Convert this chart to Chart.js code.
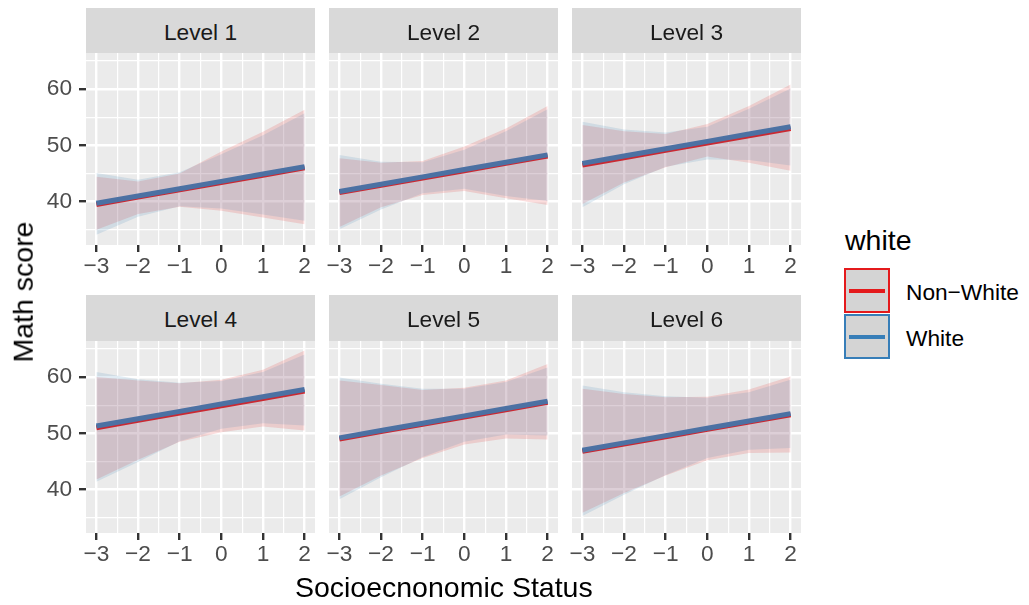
<!DOCTYPE html>
<html>
<head>
<meta charset="utf-8">
<script src="https://cdn.jsdelivr.net/npm/chart.js@4.4.1/dist/chart.umd.min.js"></script>
<style>
  html, body { margin: 0; padding: 0; background: #ffffff; }
  #fig { position: relative; width: 1029px; height: 605px; overflow: hidden;
         font-family: 'Liberation Sans', Arial, Helvetica, sans-serif; }
  #fig canvas { position: absolute; }
  .strip { position: absolute; background: #D9D9D9; }
  .strip span { position: absolute; left: 0; right: 0; text-align: center; white-space: nowrap;
                font-size: 22.7px; line-height: 22.7px; color: #1A1A1A; }
  .txt { position: absolute; white-space: nowrap; line-height: 1; color: #000000; }
  .key { position: absolute; width: 42px; height: 41px; background: #D4D4D4;
         border-style: solid; border-width: 2px; }
  .key i { position: absolute; left: 3px; right: 3px; height: 4px; }
</style>
</head>
<body>
<div id="fig"></div>
<script>
// ---- values ---------------------------------------------------------------
const ses = [-3, -2, -1, 0, 1, 2];
const sesTickLabels = ['\u22123', '\u22122', '\u22121', '0', '1', '2'];
const scoreTicks = [40, 50, 60];
const scoreTickLabels = ['40', '50', '60'];
const levels = ['Level 1', 'Level 2', 'Level 3', 'Level 4', 'Level 5', 'Level 6'];
const groups = ['Non\u2212White', 'White'];

// fitted math score per level, at each SES value
const fitNonWhite = [
  [39.5, 40.8, 42.1, 43.4, 44.7, 46.0],
  [41.6, 42.9, 44.2, 45.5, 46.8, 48.1],
  [46.5, 47.8, 49.1, 50.4, 51.7, 53.0],
  [51.0, 52.3, 53.6, 54.9, 56.2, 57.5],
  [49.0, 50.3, 51.6, 52.9, 54.2, 55.5],
  [46.8, 48.1, 49.4, 50.7, 52.0, 53.3]
];
const fitWhite = [
  [39.7, 41.0, 42.3, 43.6, 44.9, 46.2],
  [41.8, 43.1, 44.4, 45.7, 47.0, 48.3],
  [46.8, 48.1, 49.4, 50.7, 52.0, 53.3],
  [51.3, 52.6, 53.9, 55.2, 56.5, 57.8],
  [49.2, 50.5, 51.8, 53.1, 54.4, 55.7],
  [47.0, 48.3, 49.6, 50.9, 52.2, 53.5]
];

// confidence band limits
const upperNonWhite = [
  [44.4, 43.6, 45.0, 48.9, 52.4, 56.3],
  [47.7, 46.9, 47.2, 49.8, 53.0, 57.0],
  [53.6, 52.5, 52.0, 53.8, 57.0, 60.8],
  [60.0, 59.4, 58.9, 59.5, 61.3, 64.7],
  [59.4, 58.6, 57.7, 58.1, 59.4, 62.3],
  [57.9, 57.0, 56.4, 56.5, 57.8, 60.1]
];
const lowerNonWhite = [
  [35.0, 37.8, 39.1, 38.4, 37.2, 36.0],
  [35.5, 39.0, 41.2, 41.9, 40.6, 39.4],
  [39.6, 43.4, 46.1, 48.0, 46.9, 45.5],
  [41.8, 45.3, 48.5, 50.2, 51.2, 50.5],
  [38.8, 42.5, 45.6, 48.0, 49.1, 48.9],
  [35.9, 39.4, 42.5, 45.2, 46.5, 46.6]
];
const upperWhite = [
  [45.1, 43.9, 45.2, 48.4, 51.8, 55.7],
  [48.3, 47.1, 47.0, 49.2, 52.5, 56.4],
  [54.2, 52.8, 52.3, 53.3, 56.5, 60.1],
  [60.9, 59.6, 59.0, 59.3, 60.9, 64.0],
  [59.9, 58.8, 57.9, 57.9, 59.1, 61.7],
  [58.5, 57.3, 56.6, 56.3, 57.3, 59.5]
];
const lowerWhite = [
  [34.1, 37.3, 39.2, 38.8, 37.7, 36.6],
  [35.1, 38.6, 41.5, 42.3, 41.0, 40.1],
  [39.0, 43.1, 46.2, 47.5, 47.4, 46.4],
  [41.4, 44.9, 48.6, 50.8, 51.8, 51.4],
  [38.3, 42.2, 45.8, 48.5, 49.8, 49.6],
  [35.3, 39.1, 42.6, 45.6, 47.1, 47.4]
];

// ---- styling & layout -----------------------------------------------------
const RED = '#E41A1C';
const BLUE = '#377EB8';
const FONT_FAMILY = "'Liberation Sans', Arial, Helvetica, sans-serif";
const X_RANGE = [-3.25, 2.25];
const Y_RANGE = [32.3, 66.4];

const panelLeft = [86, 329, 572];
const panelRight = [315, 558, 801];
const panelTop = [53, 341];
const panelBottom = [245, 533];
const stripTop = [8, 295];

Chart.defaults.font.family = FONT_FAMILY;

function rgba(hex, a) {
  const n = parseInt(hex.slice(1), 16);
  return 'rgba(' + (n >> 16 & 255) + ',' + (n >> 8 & 255) + ',' + (n & 255) + ',' + a + ')';
}

// major breaks plus the minor breaks halfway between them
function withMinor(major, lo, hi) {
  const step = major[1] - major[0];
  const ext = [major[0] - step].concat(major, [major[major.length - 1] + step]);
  const out = [];
  for (let k = 0; k < ext.length; k++) {
    out.push(ext[k]);
    if (k < ext.length - 1) out.push((ext[k] + ext[k + 1]) / 2);
  }
  return out.filter(v => v > lo && v < hi);
}
const sesGrid = withMinor(ses, X_RANGE[0], X_RANGE[1]);
const scoreGrid = withMinor(scoreTicks, Y_RANGE[0], Y_RANGE[1]);

const isMajorX = v => ses.indexOf(v) >= 0;
const isMajorY = v => scoreTicks.indexOf(v) >= 0;

function zeroPad(s) {
  s.paddingLeft = 0; s.paddingRight = 0; s.paddingTop = 0; s.paddingBottom = 0;
}

const panelBg = {
  id: 'panelBg',
  beforeDraw(chart) {
    const { ctx, chartArea: a } = chart;
    ctx.save();
    ctx.fillStyle = '#EBEBEB';
    ctx.fillRect(a.left, a.top, a.right - a.left, a.bottom - a.top);
    ctx.restore();
  }
};

const fig = document.getElementById('fig');

function addText(text, css) {
  const d = document.createElement('div');
  d.className = 'txt';
  d.textContent = text;
  Object.assign(d.style, css);
  fig.appendChild(d);
  return d;
}

function makePanel(i) {
  const col = i % 3, row = Math.floor(i / 3);
  const yw = col === 0 ? 66 : 20;
  const padTop = 2, padRight = 12, xh = 40;
  const left = panelLeft[col] - yw;
  const top = panelTop[row] - padTop;
  const w = yw + (panelRight[col] - panelLeft[col]) + padRight;
  const h = padTop + (panelBottom[row] - panelTop[row]) + xh;

  // facet strip
  const strip = document.createElement('div');
  strip.className = 'strip';
  Object.assign(strip.style, {
    left: panelLeft[col] + 'px', top: stripTop[row] + 'px',
    width: (panelRight[col] - panelLeft[col]) + 'px',
    height: (panelTop[row] - stripTop[row]) + 'px'
  });
  const lab = document.createElement('span');
  lab.textContent = levels[i];
  lab.style.top = (32 - 0.8465 * 22.7) + 'px';
  strip.appendChild(lab);
  fig.appendChild(strip);

  const cv = document.createElement('canvas');
  cv.width = w; cv.height = h;
  Object.assign(cv.style, { left: left + 'px', top: top + 'px', width: w + 'px', height: h + 'px' });
  fig.appendChild(cv);

  const pts = arr => ses.map((x, k) => ({ x: x, y: arr[i][k] }));
  const band = (arr, color, fill) => ({
    data: pts(arr), borderWidth: 0, borderColor: 'rgba(0,0,0,0)',
    backgroundColor: rgba(color, 0.15), fill: fill
  });

  // lower index is painted later: bands sit over the fitted lines
  new Chart(cv, {
    type: 'line',
    data: {
      datasets: [
        band(upperWhite, BLUE, '+1'),
        band(lowerWhite, BLUE, false),
        band(upperNonWhite, RED, '+1'),
        band(lowerNonWhite, RED, false),
        { label: groups[1], data: pts(fitWhite), borderColor: BLUE, borderWidth: 5, fill: false },
        { label: groups[0], data: pts(fitNonWhite), borderColor: RED, borderWidth: 5, fill: false }
      ]
    },
    options: {
      responsive: false,
      animation: false,
      devicePixelRatio: 1,
      events: [],
      layout: { padding: { top: padTop, right: padRight, left: 0, bottom: 0 }, autoPadding: false },
      elements: { point: { radius: 0, hoverRadius: 0 }, line: { tension: 0 } },
      plugins: { legend: { display: false }, tooltip: { enabled: false } },
      scales: {
        x: {
          type: 'linear', bounds: 'data', min: X_RANGE[0], max: X_RANGE[1],
          afterBuildTicks: s => { s.ticks = sesGrid.map(v => ({ value: v })); },
          afterFit: s => { s.height = xh; zeroPad(s); },
          ticks: {
            autoSkip: false, maxRotation: 0, minRotation: 0, padding: 1,
            color: '#4D4D4D', font: { family: FONT_FAMILY, size: 22.7 },
            callback: v => { const k = ses.indexOf(v); return k < 0 ? '' : sesTickLabels[k]; }
          },
          grid: {
            color: '#FFFFFF',
            lineWidth: c => (c.tick && isMajorX(c.tick.value)) ? 2.4 : 1.2,
            drawTicks: true, tickLength: 7, tickWidth: 2.4,
            tickColor: c => (c.tick && isMajorX(c.tick.value)) ? '#333333' : 'rgba(0,0,0,0)'
          },
          border: { display: false }
        },
        y: {
          type: 'linear', bounds: 'data', min: Y_RANGE[0], max: Y_RANGE[1],
          afterBuildTicks: s => { s.ticks = scoreGrid.map(v => ({ value: v })); },
          afterFit: s => { s.width = yw; zeroPad(s); },
          ticks: {
            display: col === 0, autoSkip: false, padding: 7,
            color: '#4D4D4D', font: { family: FONT_FAMILY, size: 22.7 },
            callback: v => { const k = scoreTicks.indexOf(v); return k < 0 ? '' : scoreTickLabels[k]; }
          },
          grid: {
            color: '#FFFFFF',
            lineWidth: c => (c.tick && isMajorY(c.tick.value)) ? 2.4 : 1.2,
            drawTicks: col === 0, tickLength: 7, tickWidth: 2.4,
            tickColor: c => (c.tick && isMajorY(c.tick.value)) ? '#333333' : 'rgba(0,0,0,0)'
          },
          border: { display: false }
        }
      }
    },
    plugins: [panelBg]
  });
}

for (let i = 0; i < levels.length; i++) makePanel(i);

// ---- axis titles ------------------------------------------------------------
const TITLE = 28.5, SMALL = 22.7;
addText('Socioecnonomic Status', {
  fontSize: TITLE + 'px', left: '443.8px', top: (597 - 0.8465 * TITLE) + 'px',
  transform: 'translateX(-50%)'
});
addText('Math score', {
  fontSize: TITLE + 'px', left: '23.1px', top: '292px',
  transform: 'translate(-50%, -50%) rotate(-90deg)'
});

// ---- legend -----------------------------------------------------------------
addText('white', { fontSize: TITLE + 'px', left: '845px', top: (250 - 0.8465 * TITLE) + 'px' });
const keyTops = [268, 314];
const keyColors = [RED, BLUE];
const labelBase = [300, 346];
for (let g = 0; g < groups.length; g++) {
  const k = document.createElement('div');
  k.className = 'key';
  Object.assign(k.style, { left: '844px', top: keyTops[g] + 'px', borderColor: keyColors[g] });
  const line = document.createElement('i');
  Object.assign(line.style, { top: '18.5px', background: keyColors[g] });
  k.appendChild(line);
  fig.appendChild(k);
  addText(groups[g], { fontSize: SMALL + 'px', left: '906px', top: (labelBase[g] - 0.8465 * SMALL) + 'px' });
}
</script>
</body>
</html>
